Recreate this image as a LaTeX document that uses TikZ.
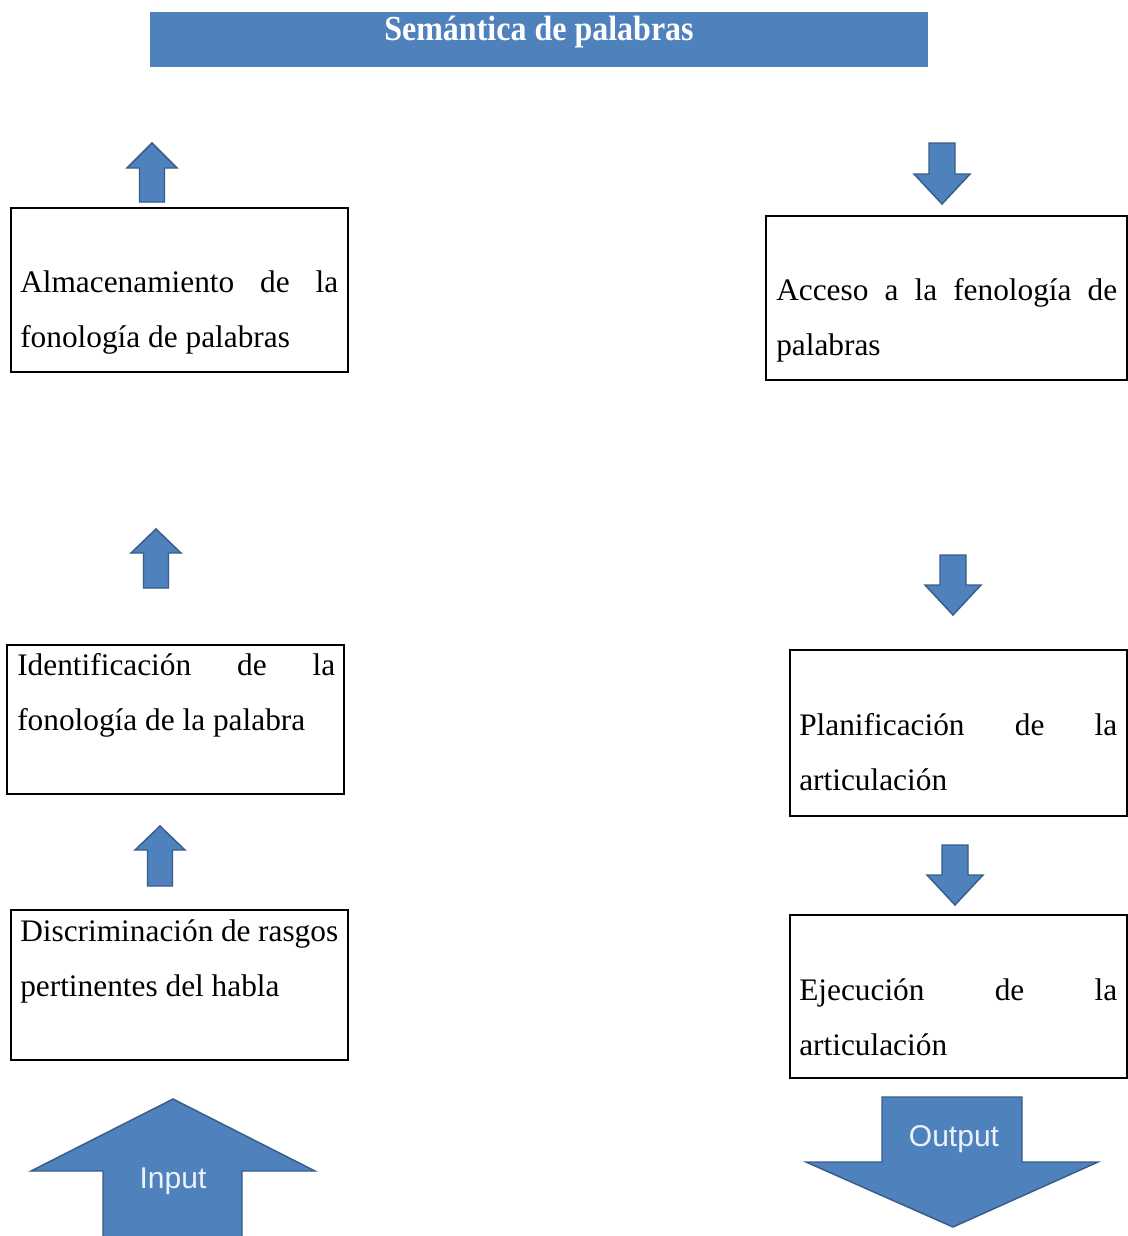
\documentclass[tikz,border=0pt]{standalone}
\usepackage{fontspec}
\setmainfont{Liberation Serif}
\newfontfamily\arrowfont{Liberation Sans}
\usetikzlibrary{fit}

\definecolor{blockblue}{RGB}{79,129,189}
\definecolor{blockedge}{RGB}{56,93,138}
\definecolor{labelwhite}{RGB}{236,242,250}

\tikzset{
  box/.style={draw=black, line width=1.1pt, inner sep=0pt},
  boxtext/.style={anchor=base west, inner sep=0pt, align=justify,
    font=\fontsize{23.5}{41.25}\selectfont},
  blockarrow/.style={fill=blockblue, draw=blockedge, line width=1.1pt, line join=miter},
  arrowlabel/.style={text=labelwhite, inner sep=0pt, font=\arrowfont\fontsize{22.5}{27}\selectfont},
}

\begin{document}
\begin{tikzpicture}[x=0.75pt, y=-0.75pt]
  \clip (0,0) rectangle (1128,1236);
  \fill[white] (0,0) rectangle (1128,1236);

  % title bar
  \node[fill=blockblue, inner sep=0pt, fit={(150,12) (928,67)}] (title) {};
  \node[anchor=base, text=white, inner sep=0pt, yscale=1.1, font=\bfseries\fontsize{24}{28}\selectfont]
    (titletext) at (539,40) {Semántica de palabras};

  % left column: perception
  \node[box, fit={(11,208) (348,372)}] (store) {};
  \node[boxtext, text width=238.5pt] (storetext) at (20,292)
    {Almacenamiento de la\linebreak fonología de palabras};

  \node[box, fit={(7,645) (344,794)}] (ident) {};
  \node[boxtext, text width=238.5pt] (identtext) at (17,675)
    {Identificación de la\linebreak fonología de la palabra};

  \node[box, fit={(11,910) (348,1060)}] (discr) {};
  \node[boxtext, text width=238.5pt] (discrtext) at (20,941)
    {Discriminación de rasgos\linebreak pertinentes del habla};

  % right column: production
  \node[box, fit={(766,216) (1127,380)}] (access) {};
  \node[boxtext, text width=255.75pt] (accesstext) at (776,300)
    {Acceso a la fenología de\linebreak palabras};

  \node[box, fit={(790,650) (1127,816)}] (plan) {};
  \node[boxtext, text width=238.5pt] (plantext) at (799,735)
    {Planificación de la\linebreak articulación};

  \node[box, fit={(790,915) (1127,1078)}] (exec) {};
  \node[boxtext, text width=238.5pt] (exectext) at (799,1000)
    {Ejecución de la\linebreak articulación};

  % small upward arrows
  \draw[blockarrow] (152,143) -- ++(25,25) -- ++(-12.5,0) -- ++(0,34)
    -- ++(-25,0) -- ++(0,-34) -- ++(-12.5,0) -- cycle;
  \draw[blockarrow] (156,529) -- ++(25,24) -- ++(-12.5,0) -- ++(0,35)
    -- ++(-25,0) -- ++(0,-35) -- ++(-12.5,0) -- cycle;
  \draw[blockarrow] (160,826) -- ++(25,24) -- ++(-12.5,0) -- ++(0,36)
    -- ++(-25,0) -- ++(0,-36) -- ++(-12.5,0) -- cycle;

  % small downward arrows
  \draw[blockarrow] (942,204) -- ++(28,-30) -- ++(-15,0) -- ++(0,-31)
    -- ++(-26,0) -- ++(0,31) -- ++(-15,0) -- cycle;
  \draw[blockarrow] (953,615) -- ++(28,-30) -- ++(-15,0) -- ++(0,-30)
    -- ++(-26,0) -- ++(0,30) -- ++(-15,0) -- cycle;
  \draw[blockarrow] (955,905) -- ++(28,-30) -- ++(-15,0) -- ++(0,-30)
    -- ++(-26,0) -- ++(0,30) -- ++(-15,0) -- cycle;

  % input arrow
  \draw[blockarrow] (173,1099) -- (315,1171) -- (242,1171) -- (242,1245)
    -- (103,1245) -- (103,1171) -- (31,1171) -- cycle;
  \node[arrowlabel] (input) at (173,1181) {Input};

  % output arrow
  \draw[blockarrow] (882,1097) -- (1022,1097) -- (1022,1162) -- (1098,1162)
    -- (953,1227) -- (806,1162) -- (882,1162) -- cycle;
  \node[arrowlabel] (output) at (954,1139) {Output};
\end{tikzpicture}
\end{document}
